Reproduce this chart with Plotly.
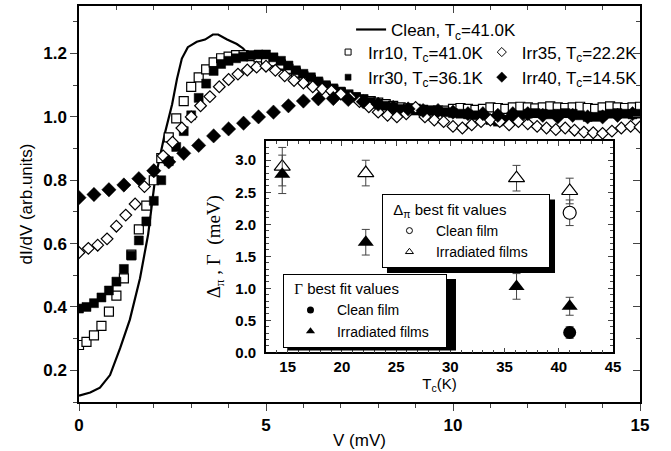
import plotly.graph_objects as go

# ---------------- main panel data ----------------
clean_v = [0.0, 0.3, 0.56, 0.83, 1.1, 1.36, 1.63, 1.85, 2.03, 2.17, 2.3, 2.49, 2.62, 2.75, 2.91,
           3.15, 3.37, 3.58, 3.72, 3.96, 4.22, 4.39, 4.52, 4.8, 5.2, 6.0, 7.0, 8.0, 9.0, 10.0, 12.0, 15.0]
clean_g = [0.12, 0.13, 0.145, 0.185, 0.27, 0.36, 0.49, 0.63, 0.80, 0.884, 0.95, 1.04, 1.12, 1.184, 1.22,
           1.237, 1.244, 1.26, 1.26, 1.244, 1.23, 1.216, 1.197, 1.18, 1.16, 1.12, 1.07, 1.04, 1.02, 1.01, 1.0, 1.0]

irr10_g = [0.28, 0.29, 0.31, 0.34, 0.385, 0.436, 0.49, 0.565, 0.645, 0.72,
           0.80, 0.87, 0.935, 0.995, 1.05, 1.095, 1.125, 1.15, 1.172, 1.185,
           1.19, 1.195, 1.195, 1.192, 1.188, 1.183, 1.175, 1.165, 1.152, 1.14,
           1.128, 1.117, 1.105, 1.095, 1.085, 1.077, 1.07, 1.062, 1.055, 1.05,
           1.045, 1.04, 1.035, 1.03, 1.027, 1.025, 1.022, 1.02, 1.02, 1.02,
           1.025, 1.028, 1.025, 1.022, 1.025, 1.03, 1.028, 1.025, 1.03, 1.032,
           1.03, 1.027, 1.03, 1.033, 1.03, 1.028, 1.03, 1.032, 1.028, 1.025,
           1.03, 1.033, 1.03, 1.028, 1.03, 1.032]
irr10_v = [round(0.2 * i, 2) for i in range(len(irr10_g))]

irr30_g = [0.395, 0.40, 0.412, 0.43, 0.452, 0.48, 0.52, 0.562, 0.61, 0.67,
           0.735, 0.80, 0.86, 0.905, 0.955, 1.005, 1.06, 1.105, 1.145, 1.167,
           1.177, 1.185, 1.19, 1.195, 1.197, 1.197, 1.188, 1.177, 1.162, 1.147,
           1.136, 1.125, 1.112, 1.10, 1.09, 1.08, 1.07, 1.062, 1.055, 1.047,
           1.04, 1.035, 1.03, 1.025, 1.022, 1.02, 1.018, 1.02, 1.018, 1.015,
           1.012, 1.01, 1.008, 1.005, 1.0, 0.99, 0.985, 0.99, 1.0, 1.005,
           1.01, 1.012, 1.01, 1.008, 1.01, 1.012, 1.01, 1.005, 1.0, 1.0,
           1.005, 1.01, 1.012, 1.01, 1.008, 1.01]
irr30_v = [round(0.2 * i, 2) for i in range(len(irr30_g))]

irr35_g = [0.572, 0.585, 0.595, 0.615, 0.655, 0.69, 0.725, 0.78, 0.83, 0.877,
           0.92, 0.965, 1.0, 1.035, 1.064, 1.095, 1.118, 1.135, 1.148, 1.157,
           1.16, 1.147, 1.13, 1.115, 1.107, 1.095, 1.088, 1.082, 1.072, 1.062,
           1.048, 1.032, 1.015, 1.005, 1.0, 1.01, 1.03, 1.0, 0.99, 0.985,
           0.97, 0.965, 0.975, 0.985, 0.99, 0.985, 0.975, 0.985, 0.978, 0.97,
           0.965, 0.96, 0.965, 0.958, 0.952, 0.95, 0.948, 0.955, 0.965, 0.97, 0.968]
irr35_v = [round(0.25 * i, 2) for i in range(len(irr35_g))]

irr40_g = [0.745, 0.755, 0.77, 0.785, 0.805, 0.83, 0.858, 0.885, 0.91, 0.94,
           0.962, 0.98, 1.0, 1.015, 1.035, 1.05, 1.057, 1.058, 1.055, 1.048,
           1.04, 1.03, 1.025, 1.02, 1.02, 1.015, 1.01, 1.01, 1.005, 1.01,
           1.01, 1.005, 1.0, 1.005, 1.0, 1.0, 1.005, 1.01]
irr40_v = [round(0.4 * i, 2) for i in range(len(irr40_g))]

# ---------------- inset data ----------------
tc_irr = [14.5, 22.2, 36.1, 41.0]
delta_irr = [2.9, 2.8, 2.72, 2.52]
delta_irr_err = [0.3, 0.2, 0.2, 0.2]
gamma_irr = [2.78, 1.72, 1.03, 0.72]
gamma_irr_err = [0.3, 0.2, 0.2, 0.14]
tc_clean = [41.0]
delta_clean = [2.18]
delta_clean_err = [0.2]
gamma_clean = [0.31]
gamma_clean_err = [0.09]

FONT = "Liberation Sans"
SERIF = "Liberation Serif"
BLACK = "black"
NB = "\u00a0"

fig = go.Figure()

# main curves
fig.add_trace(go.Scatter(x=clean_v, y=clean_g, mode="lines", line=dict(color=BLACK, width=2.2),
                         name="Clean, T<sub>c</sub>=41.0K", legend="legend"))
fig.add_trace(go.Scatter(x=irr10_v, y=irr10_g, mode="markers", showlegend=False,
                         marker=dict(symbol="square", size=9, color="white", line=dict(color=BLACK, width=1.2))))
fig.add_trace(go.Scatter(x=irr30_v, y=irr30_g, mode="markers", showlegend=False,
                         marker=dict(symbol="square", size=9, color=BLACK, line=dict(color=BLACK, width=0.5))))
fig.add_trace(go.Scatter(x=irr35_v, y=irr35_g, mode="markers", showlegend=False,
                         marker=dict(symbol="diamond", size=9, color="white", line=dict(color=BLACK, width=1.2))))
fig.add_trace(go.Scatter(x=irr40_v, y=irr40_g, mode="markers", showlegend=False,
                         marker=dict(symbol="diamond", size=11, color=BLACK, line=dict(color=BLACK, width=0.5))))

# main legend proxies
fig.add_trace(go.Scatter(x=[None], y=[None], mode="markers", name="Irr10, T<sub>c</sub>=41.0K", legend="legend2",
                         marker=dict(symbol="square", size=6, color="white", line=dict(color=BLACK, width=1))))
fig.add_trace(go.Scatter(x=[None], y=[None], mode="markers", name="Irr30, T<sub>c</sub>=36.1K", legend="legend2",
                         marker=dict(symbol="square", size=6, color=BLACK, line=dict(color=BLACK, width=0.5))))
fig.add_trace(go.Scatter(x=[None], y=[None], mode="markers", name="Irr35, T<sub>c</sub>=22.2K", legend="legend3",
                         marker=dict(symbol="diamond", size=7, color="white", line=dict(color=BLACK, width=1))))
fig.add_trace(go.Scatter(x=[None], y=[None], mode="markers", name="Irr40, T<sub>c</sub>=14.5K", legend="legend3",
                         marker=dict(symbol="diamond", size=8, color=BLACK, line=dict(color=BLACK, width=0.5))))

# inset points
eb = dict(type="data", color="#444", thickness=1, width=4)
fig.add_trace(go.Scatter(x=tc_irr, y=delta_irr, xaxis="x2", yaxis="y2", mode="markers", showlegend=False,
                         error_y=dict(eb, array=delta_irr_err),
                         marker=dict(symbol="triangle-up", size=14, color="white", line=dict(color=BLACK, width=1.2))))
fig.add_trace(go.Scatter(x=tc_clean, y=delta_clean, xaxis="x2", yaxis="y2", mode="markers", showlegend=False,
                         error_y=dict(eb, array=delta_clean_err),
                         marker=dict(symbol="circle", size=13, color="white", line=dict(color=BLACK, width=1.2))))
fig.add_trace(go.Scatter(x=tc_irr, y=gamma_irr, xaxis="x2", yaxis="y2", mode="markers", showlegend=False,
                         error_y=dict(eb, array=gamma_irr_err),
                         marker=dict(symbol="triangle-up", size=14, color=BLACK)))
fig.add_trace(go.Scatter(x=tc_clean, y=gamma_clean, xaxis="x2", yaxis="y2", mode="markers", showlegend=False,
                         error_y=dict(eb, array=gamma_clean_err),
                         marker=dict(symbol="circle", size=13, color=BLACK)))

# inset legend proxies
fig.add_trace(go.Scatter(x=[None], y=[None], xaxis="x2", yaxis="y2", mode="markers", name="Clean film", legend="legend4",
                         marker=dict(symbol="circle", size=6, color="white", line=dict(color=BLACK, width=1))))
fig.add_trace(go.Scatter(x=[None], y=[None], xaxis="x2", yaxis="y2", mode="markers",
                         name="Irradiated films" + NB * 4, legend="legend4",
                         marker=dict(symbol="triangle-up", size=7, color="white", line=dict(color=BLACK, width=1))))
fig.add_trace(go.Scatter(x=[None], y=[None], xaxis="x2", yaxis="y2", mode="markers", name="Clean film", legend="legend5",
                         marker=dict(symbol="circle", size=7, color=BLACK)))
fig.add_trace(go.Scatter(x=[None], y=[None], xaxis="x2", yaxis="y2", mode="markers",
                         name="Irradiated films" + NB * 3, legend="legend5",
                         marker=dict(symbol="triangle-up", size=8, color=BLACK)))

# dummy trace for inward top/right tick axes
fig.add_trace(go.Scatter(x=[None], y=[None], xaxis="x3", yaxis="y3", showlegend=False, hoverinfo="skip"))

tickfont_main = dict(family=FONT, size=17, color=BLACK, weight="bold")
tickfont_in = dict(family=FONT, size=15, color=BLACK, weight="bold")

leg_common = dict(bgcolor="rgba(0,0,0,0)", borderwidth=0, xanchor="left", yanchor="top",
                  font=dict(family=FONT, size=17, color=BLACK), tracegroupgap=0, itemclick=False)
inleg_common = dict(bgcolor="white", bordercolor=BLACK, borderwidth=1, xanchor="left", yanchor="top",
                    font=dict(family=FONT, size=14, color=BLACK), tracegroupgap=0, itemclick=False,
                    itemwidth=43)

fig.update_layout(
    width=671, height=451,
    margin=dict(l=79, r=31, t=4, b=48),
    paper_bgcolor="white", plot_bgcolor="white",
    font=dict(family=FONT, color=BLACK),
    xaxis=dict(domain=[0, 1], range=[0, 15], anchor="y", tickvals=[0, 5, 10, 15], ticks="outside", ticklen=7,
               tickwidth=1.3, minor=dict(dtick=1, ticklen=4, ticks="outside", tickwidth=1.2),
               showline=True, linecolor=BLACK, linewidth=1.5, mirror=True, showgrid=False, zeroline=False,
               tickfont=tickfont_main,
               title=dict(text="V (mV)", font=dict(family=FONT, size=17, color=BLACK), standoff=0)),
    yaxis=dict(domain=[0, 1], range=[0.1, 1.35], anchor="x", tickvals=[0.2, 0.4, 0.6, 0.8, 1.0, 1.2],
               ticktext=["0.2", "0.4", "0.6", "0.8", "1.0", "1.2"], ticks="outside", ticklen=7, tickwidth=1.3,
               minor=dict(tickvals=[0.1, 0.3, 0.5, 0.7, 0.9, 1.1, 1.3], ticklen=4, ticks="outside", tickwidth=1.2),
               showline=True, linecolor=BLACK, linewidth=1.5, mirror=True, showgrid=False, zeroline=False,
               tickfont=tickfont_main,
               title=dict(text="dI/dV (arb.units)", font=dict(family=FONT, size=17, color=BLACK), standoff=6)),
    xaxis3=dict(overlaying="x", side="top", anchor="y3", range=[0, 15], tickvals=[0, 5, 10, 15], ticks="inside",
                ticklen=7, tickwidth=1.3, minor=dict(dtick=1, ticklen=4, ticks="inside", tickwidth=1.2),
                showticklabels=False, showline=False, showgrid=False, zeroline=False),
    yaxis3=dict(overlaying="y", side="right", anchor="x3", range=[0.1, 1.35], tickvals=[0.2, 0.4, 0.6, 0.8, 1.0, 1.2],
                ticks="inside", ticklen=7, tickwidth=1.3,
                minor=dict(tickvals=[0.1, 0.3, 0.5, 0.7, 0.9, 1.1, 1.3], ticklen=4, ticks="inside", tickwidth=1.2),
                showticklabels=False, showline=False, showgrid=False, zeroline=False),
    xaxis2=dict(domain=[0.3333, 0.952], range=[13, 45], anchor="y2", tickvals=[15, 20, 25, 30, 35, 40, 45],
                ticks="inside", ticklen=5, tickwidth=1.2, minor=dict(dtick=1, tick0=0, ticklen=3, ticks="inside"),
                showline=True, linecolor=BLACK, linewidth=1.5, mirror="allticks", showgrid=False, zeroline=False,
                tickfont=tickfont_in,
                title=dict(text="T<sub>c</sub>(K)", font=dict(family=FONT, size=15, color=BLACK), standoff=0)),
    yaxis2=dict(domain=[0.1253, 0.659], range=[0, 3.3], anchor="x2", tickvals=[0, 0.5, 1.0, 1.5, 2.0, 2.5, 3.0],
                tickformat=".1f", ticks="inside", ticklen=5, tickwidth=1.2, ticklabelstandoff=5,
                minor=dict(dtick=0.1, tick0=0, ticklen=3, ticks="inside"),
                showline=True, linecolor=BLACK, linewidth=1.5, mirror="allticks", showgrid=False, zeroline=False,
                tickfont=tickfont_in,
                title=dict(text="Δ<sub>π</sub> , Γ  (meV)", font=dict(family=SERIF, size=19, color=BLACK), standoff=10)),
    legend=dict(leg_common, x=0.485, y=0.985),
    legend2=dict(leg_common, x=0.444, y=0.928),
    legend3=dict(leg_common, x=0.718, y=0.928),
    legend4=dict(inleg_common, x=0.540, y=0.524,
                 title=dict(text=NB * 2 + "Δ<sub>π</sub> best fit values", font=dict(family=FONT, size=15, color=BLACK))),
    legend5=dict(inleg_common, x=0.3636, y=0.3236,
                 title=dict(text=NB * 2 + "<span style='font-family:Liberation Serif'>Γ</span> best fit values",
                            font=dict(family=FONT, size=15, color=BLACK))),
    shapes=[
        dict(type="rect", xref="paper", yref="paper", x0=0.549, x1=0.8485, y0=0.3258, y1=0.5113,
             fillcolor=BLACK, line=dict(width=0), layer="above"),
        dict(type="rect", xref="paper", yref="paper", x0=0.3725, x1=0.6720, y0=0.1303, y1=0.3108,
             fillcolor=BLACK, line=dict(width=0), layer="above"),
    ],
)

fig.write_html("out.html")
